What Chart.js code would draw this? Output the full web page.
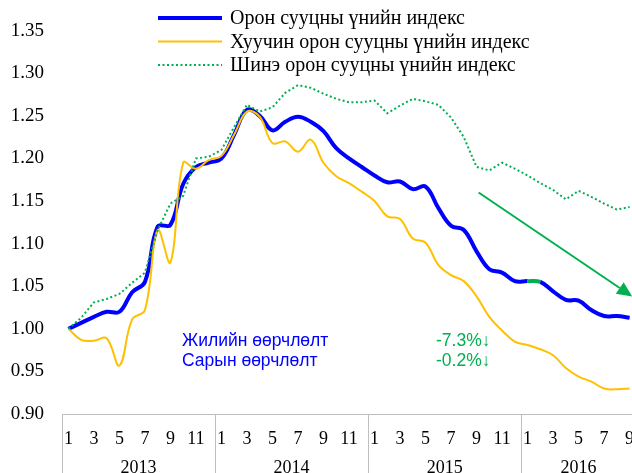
<!DOCTYPE html>
<html>
<head>
<meta charset="utf-8">
<script src="https://cdn.jsdelivr.net/npm/chart.js@4.4.0/dist/chart.umd.min.js"></script>
<style>
  html, body { margin: 0; padding: 0; background: #fff; overflow: hidden; }
  #wrap { width: 632px; height: 473px; overflow: hidden; }
</style>
</head>
<body>
<div id="wrap"><canvas id="priceChart" width="636" height="473"></canvas></div>
<script>
// Months 2013-1 .. 2016-9
var monthLabels = [1,2,3,4,5,6,7,8,9,10,11,12,
                   1,2,3,4,5,6,7,8,9,10,11,12,
                   1,2,3,4,5,6,7,8,9,10,11,12,
                   1,2,3,4,5,6,7,8,9];
var years = ['2013', '2014', '2015', '2016'];
var monthsPerYear = [12, 12, 12, 9];

var seriesNames = [
  'Орон сууцны үнийн индекс',
  'Хуучин орон сууцны үнийн индекс',
  'Шинэ орон сууцны үнийн индекс'
];

var totalIndex = [1.000, 1.007, 1.014, 1.020, 1.020, 1.043, 1.055, 1.120, 1.122, 1.170, 1.190, 1.195,
                  1.200, 1.228, 1.257, 1.250, 1.233, 1.243, 1.249, 1.243, 1.232, 1.212, 1.200, 1.190,
                  1.180, 1.172, 1.173, 1.164, 1.167, 1.142, 1.121, 1.116, 1.091, 1.070, 1.066, 1.056,
                  1.056, 1.055, 1.044, 1.034, 1.033, 1.022, 1.015, 1.015, 1.013];

var oldIndex = [1.000, 0.987, 0.986, 0.989, 0.957, 1.011, 1.022, 1.116, 1.078, 1.195, 1.188, 1.198,
                1.203, 1.228, 1.255, 1.249, 1.218, 1.220, 1.208, 1.222, 1.195, 1.179, 1.171, 1.161,
                1.150, 1.132, 1.129, 1.106, 1.101, 1.075, 1.063, 1.056, 1.038, 1.014, 0.998, 0.985,
                0.981, 0.976, 0.969, 0.954, 0.944, 0.938, 0.930, 0.929, 0.930];

var newIndex = [1.000, 1.013, 1.031, 1.035, 1.041, 1.054, 1.066, 1.116, 1.147, 1.156, 1.200, 1.202,
                1.210, 1.237, 1.263, 1.255, 1.260, 1.277, 1.286, 1.283, 1.276, 1.270, 1.266, 1.266,
                1.268, 1.253, 1.262, 1.270, 1.267, 1.263, 1.248, 1.225, 1.190, 1.186, 1.195, 1.188,
                1.180, 1.171, 1.163, 1.152, 1.162, 1.155, 1.147, 1.140, 1.143];

var yTicks = [0.90, 0.95, 1.00, 1.05, 1.10, 1.15, 1.20, 1.25, 1.30, 1.35];

var changeNames = ['Жилийн өөрчлөлт', 'Сарын өөрчлөлт'];
var changeValues = ['-7.3%↓', '-0.2%↓'];

var blue = '#0000ff';
var gold = '#ffc000';
var green = '#00b050';
var axisGray = '#bfbfbf';
var serif = '"Liberation Serif", "Times New Roman", serif';
var sans = '"Liberation Sans", Arial, sans-serif';

// year groups, separators, legend, notes and trend arrow
var extrasPlugin = {
  id: 'extras',
  afterDraw: function(chart) {
    var ctx = chart.ctx;
    var xs = chart.scales.x;
    var ys = chart.scales.y;
    var bottom = xs.top;

    ctx.save();
    // year separators + labels
    ctx.strokeStyle = axisGray;
    ctx.lineWidth = 1;
    ctx.fillStyle = '#000';
    ctx.font = '18px ' + serif;
    ctx.textAlign = 'center';
    ctx.textBaseline = 'middle';
    var start = 0;
    years.forEach(function(yr, k) {
      var left = xs.getPixelForValue(start - 0.5);
      var right = xs.getPixelForValue(start + monthsPerYear[k] - 0.5);
      var lx = Math.round(left) + 0.5;
      ctx.beginPath();
      ctx.moveTo(lx, bottom);
      ctx.lineTo(lx, chart.height);
      ctx.stroke();
      ctx.fillText(yr, (left + right) / 2, bottom + 54);
      start += monthsPerYear[k];
    });

    // legend
    var rowY = [18, 41.5, 65];
    ctx.textAlign = 'left';
    ctx.font = '20px ' + serif;
    chart.data.datasets.forEach(function(ds, i) {
      ctx.save();
      ctx.strokeStyle = ds.borderColor;
      ctx.lineWidth = ds.borderWidth;
      ctx.setLineDash(ds.borderDash || []);
      ctx.beginPath();
      ctx.moveTo(158, rowY[i]);
      ctx.lineTo(222, rowY[i]);
      ctx.stroke();
      ctx.restore();
      ctx.fillStyle = '#000';
      ctx.fillText(ds.label, 230, rowY[i] + 1);
    });

    // change notes
    ctx.font = '17.5px ' + sans;
    changeNames.forEach(function(t, i) {
      var y = 341 + i * 20;
      ctx.fillStyle = blue;
      ctx.fillText(t, 182, y);
      ctx.fillStyle = green;
      ctx.fillText(changeValues[i], 436, y);
    });

    // trend arrow
    var x0 = xs.getPixelForValue(32.16), y0 = ys.getPixelForValue(1.160);
    var x1 = xs.getPixelForValue(44.2), y1 = ys.getPixelForValue(1.038);
    var ang = Math.atan2(y1 - y0, x1 - x0);
    var head = 15, half = 7;
    var bx = x1 - head * Math.cos(ang), by = y1 - head * Math.sin(ang);
    ctx.strokeStyle = green;
    ctx.fillStyle = green;
    ctx.lineWidth = 2;
    ctx.beginPath();
    ctx.moveTo(x0, y0);
    ctx.lineTo(bx, by);
    ctx.stroke();
    ctx.beginPath();
    ctx.moveTo(x1, y1);
    ctx.lineTo(bx + half * Math.sin(ang), by - half * Math.cos(ang));
    ctx.lineTo(bx - half * Math.sin(ang), by + half * Math.cos(ang));
    ctx.closePath();
    ctx.fill();
    ctx.restore();
  }
};

var ctx = document.getElementById('priceChart').getContext('2d');
var priceChart = new Chart(ctx, {
  type: 'line',
  data: {
    labels: monthLabels.map(String),
    datasets: [{
      label: seriesNames[0],
      data: totalIndex,
      borderColor: blue,
      borderWidth: 4,
      tension: 0.4,
      order: 3,
      segment: {
        borderColor: function(c) { return c.p0DataIndex === 36 ? green : blue; }
      }
    }, {
      label: seriesNames[1],
      data: oldIndex,
      borderColor: gold,
      borderWidth: 2,
      tension: 0.4,
      order: 2
    }, {
      label: seriesNames[2],
      data: newIndex,
      borderColor: green,
      borderWidth: 2,
      borderDash: [2, 2.5],
      tension: 0,
      order: 1
    }]
  },
  options: {
    responsive: false,
    animation: false,
    devicePixelRatio: 1,
    layout: { padding: 0 },
    elements: { point: { radius: 0 } },
    plugins: { legend: { display: false }, tooltip: { enabled: false } },
    scales: {
      x: {
        type: 'category',
        offset: true,
        grid: { display: false, drawTicks: false },
        border: { display: true, color: axisGray, width: 1 },
        ticks: {
          autoSkip: false,
          maxRotation: 0,
          padding: 14,
          color: '#000',
          font: { family: serif, size: 18 },
          callback: function(v, i) { return i % 2 === 0 ? monthLabels[i] : ''; }
        },
        afterFit: function(s) { s.height = 59; s.paddingLeft = 0; s.paddingRight = 0; }
      },
      y: {
        min: 0.90,
        max: 1.386,
        grid: { display: false, drawTicks: false },
        border: { display: false },
        afterBuildTicks: function(s) { s.ticks = yTicks.map(function(v) { return { value: v }; }); },
        ticks: {
          padding: 18,
          color: '#000',
          font: { family: serif, size: 19 },
          callback: function(v) { return Number(v).toFixed(2); }
        },
        afterFit: function(s) { s.width = 62; s.paddingTop = 0; s.paddingBottom = 0; }
      }
    }
  },
  plugins: [extrasPlugin]
});
</script>
</body>
</html>
